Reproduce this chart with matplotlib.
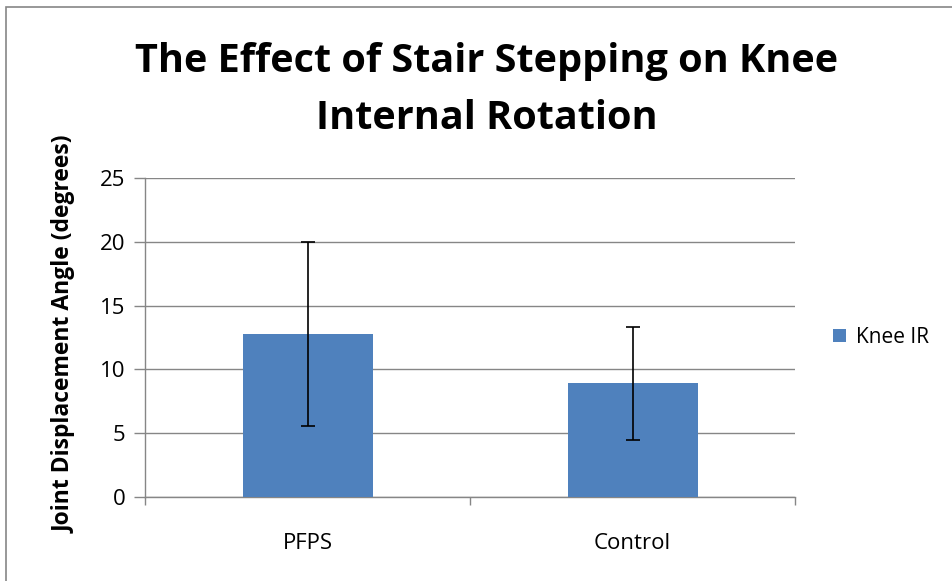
import numpy as np
import matplotlib.pyplot as plt
from matplotlib.patches import Rectangle

plt.rcParams['font.family'] = ['Open Sans', 'DejaVu Sans']

# data
groups = ['PFPS', 'Control']
knee_ir = [12.8, 8.9]
knee_ir_err = [7.2, 4.4]
yticks = [0, 5, 10, 15, 20, 25]

fig = plt.figure(figsize=(9.53, 5.81), dpi=100)
ax = fig.add_axes([0.1522, 0.1446, 0.682, 0.549])

grid_col = '#868686'
x = np.arange(len(groups))
ax.bar(x, knee_ir, width=0.4, color='#4F81BD', label='Knee IR', zorder=3)
ax.errorbar(x, knee_ir, yerr=knee_ir_err, fmt='none', ecolor='black',
            elinewidth=1.2, capsize=5, capthick=1.2, zorder=4)

ax.set_xlim(-0.5, 1.5)
ax.set_ylim(0, 25)
ax.set_yticks(yticks)
ax.yaxis.grid(True, color=grid_col, linewidth=1.0, zorder=0)
ax.set_axisbelow(True)

# category ticks sit between the groups
ax.set_xticks([-0.5, 0.5, 1.5])
ax.set_xticklabels([])
ax.set_xticks(x, minor=True)
ax.set_xticklabels(groups, minor=True)
ax.tick_params(axis='x', which='minor', length=0, pad=26, labelsize=16)
ax.tick_params(axis='x', which='major', length=6, color=grid_col, width=1)
ax.tick_params(axis='y', length=8, color=grid_col, width=1, labelsize=16, pad=6)

for s in ['top', 'right']:
    ax.spines[s].set_visible(False)
for s in ['left', 'bottom']:
    ax.spines[s].set_color(grid_col)
    ax.spines[s].set_linewidth(1.0)

ax.set_ylabel('Joint Displacement Angle (degrees)', fontsize=16.5, fontweight='bold')
ax.yaxis.set_label_coords(-0.105, 0.51)

fig.text(0.511, 0.845, 'The Effect of Stair Stepping on Knee\nInternal Rotation',
         ha='center', va='center', fontsize=28.5, fontweight='bold', linespacing=1.6)

ax.legend(loc='center left', bbox_to_anchor=(1.03, 0.5), frameon=False,
          fontsize=15, handlelength=0.6, handleheight=0.6, handletextpad=0.5)

# chart frame, only left and top edges fall inside the image
fig.patches.append(Rectangle((0.0063, -0.05), 1.1, 1.038, transform=fig.transFigure,
                             fill=False, edgecolor='#868686', linewidth=1.2))

fig.savefig('out.png', dpi=100)
